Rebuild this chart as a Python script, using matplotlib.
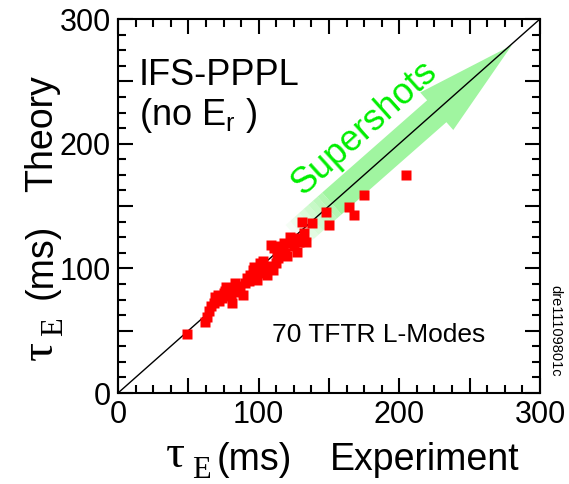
import numpy as np
import matplotlib
matplotlib.use("Agg")
import matplotlib.pyplot as plt
from matplotlib.ticker import MultipleLocator, FuncFormatter

plt.rcParams['font.family'] = ['Liberation Sans', 'DejaVu Sans']
plt.rcParams['mathtext.fontset'] = 'custom'
plt.rcParams['mathtext.rm'] = 'Liberation Sans'

# tau_E experiment vs theory (ms), 70 TFTR L-modes
tau_exp = [49, 62, 63, 65, 66, 69, 71, 72, 75, 77, 78, 79, 81, 83, 84, 86, 89,
           90, 92, 94, 95, 97, 98, 99, 101, 102, 104, 106, 107, 108, 110, 112,
           109, 111, 113, 115, 117, 119, 122, 123, 125, 127, 129, 131, 134,
           132, 138, 148, 150, 164, 168, 175, 205,
           68, 74, 80, 87, 93, 100, 105, 114, 120, 124, 96, 103, 116, 118, 126, 85, 76]
tau_th = [47, 57, 61, 66, 70, 77, 79, 74, 80, 85, 80, 84, 72, 88, 83, 81, 79,
          88, 92, 95, 93, 101, 97, 91, 104, 96, 100, 95, 102, 101, 99, 104,
          119, 116, 109, 118, 115, 112, 125, 120, 118, 113, 121, 137, 121,
          128, 136, 145, 135, 149, 143, 159, 175,
          72, 76, 78, 85, 90, 98, 100, 108, 110, 122, 99, 106, 112, 120, 124, 86, 82]

diag = [0, 300]
fade_start = 126
arrow_start = 152
arrow_end = 280

green = '#a0f5a0'

fig = plt.figure(figsize=(5.69, 4.84), dpi=100)
ax = fig.add_axes([0.2074, 0.188, 0.7416, 0.7727])

# faded tail of the arrow
edges = np.linspace(fade_start, arrow_start, 9)
for i in range(8):
    ax.plot([edges[i], edges[i + 1]], [edges[i], edges[i + 1]], color=green,
            lw=21, alpha=0.1 + 0.1 * i, solid_capstyle='butt', zorder=1)
ax.annotate('', xy=(arrow_end, arrow_end - 1), xytext=(arrow_start, arrow_start),
            arrowprops=dict(arrowstyle='simple,head_width=1.8,head_length=3.6,tail_width=1.05',
                            mutation_scale=20, fc=green, ec='none', shrinkA=0, shrinkB=0),
            zorder=1)
ax.plot(diag, diag, color='black', lw=1.0, zorder=2)
ax.plot(tau_exp, tau_th, 's', color='#ff0000', ms=7, mec='none', zorder=3)

ax.set_xlim(0, 300)
ax.set_ylim(0, 300)
for a in (ax.xaxis, ax.yaxis):
    a.set_major_locator(MultipleLocator(50))
    a.set_minor_locator(MultipleLocator(12.5))
    a.set_major_formatter(FuncFormatter(lambda v, p: '%d' % v if v % 100 == 0 else ''))
ax.tick_params(which='both', direction='in', top=True, right=True, width=1.5,
               labelsize=22, pad=5)
ax.tick_params(which='major', length=11)
ax.tick_params(which='minor', length=5.5)
for s in ax.spines.values():
    s.set_linewidth(1.5)

ax.text(0.05, 0.85, 'IFS-PPPL', transform=ax.transAxes, fontsize=26, va='center')
ax.text(0.05, 0.743, r'(no E$_{\mathrm{r}}$ )', transform=ax.transAxes, fontsize=26,
        va='center')
ax.text(0.365, 0.155, '70 TFTR L-Modes', transform=ax.transAxes, fontsize=19, va='center')
ax.text(0.585, 0.709, 'Supershots', transform=ax.transAxes, fontsize=26, color='#00ee00',
        rotation=42, ha='center', va='center')

W, H = 569, 484
serif = 'Liberation Serif'
# x label pieces
fig.text(166 / W, 1 - 467 / H, '\u03c4', family=serif, fontsize=34, va='baseline')
fig.text(192 / W, 1 - 478 / H, 'E', family=serif, fontsize=22, va='baseline')
fig.text(217 / W, 1 - 470 / H, '(ms)', fontsize=27, va='baseline')
fig.text(330 / W, 1 - 470 / H, 'Experiment', fontsize=27, va='baseline')
# y label pieces (rotated)
kw = dict(rotation=90, rotation_mode='anchor', ha='left', va='baseline')
fig.text(52 / W, 1 - 360 / H, '\u03c4', family=serif, fontsize=34, **kw)
fig.text(62 / W, 1 - 336 / H, 'E', family=serif, fontsize=22, **kw)
fig.text(52 / W, 1 - 299 / H, '(ms)', fontsize=27, **kw)
fig.text(52 / W, 1 - 192 / H, 'Theory', fontsize=27, **kw)

fig.text(555 / W, 1 - 331 / H, 'dre11109801c', rotation=-90, fontsize=10.5,
         ha='center', va='center')

fig.savefig('out.png', dpi=100)
